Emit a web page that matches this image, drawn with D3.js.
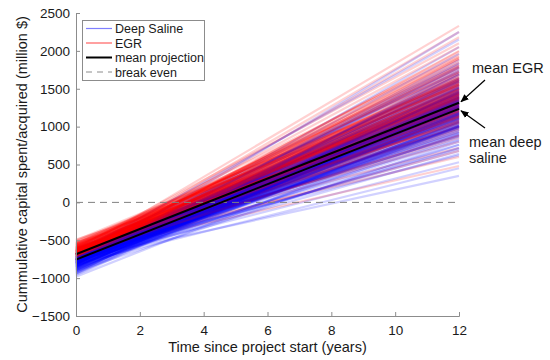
<!DOCTYPE html>
<html>
<head>
<meta charset="utf-8">
<script src="https://cdn.jsdelivr.net/npm/d3@7"></script>
<style>
  body { margin: 0; background: #fff; }
  svg { font-family: "Liberation Sans", Arial, sans-serif; }
</style>
</head>
<body>
<svg width="550" height="360"></svg>
<script>
// ---- data ----
var years = [0, 12];
var xTicks = [0, 2, 4, 6, 8, 10, 12];
var yTicks = [-1500, -1000, -500, 0, 500, 1000, 1500, 2000, 2500];

// each simulated line: value at year 0 and at year 12
var dsStart = [-760, -810, -720, -690, -850, -740, -780, -700, -830, -770, -650, -790, -730, -880, -750, -710, -800, -760, -680, -920, -740, -770, -820, -700, -790, -730, -860, -750, -640, -780, -810, -720, -760, -900, -690, -770, -740, -830, -710, -800, -750, -620, -780, -730, -870, -760, -700, -820, -790, -740, -680, -850, -760, -720, -810, -770, -940, -730, -790, -700, -750, -840, -660, -780, -760, -720, -890, -740, -800, -710, -770, -830, -750, -690, -780, -860, -730, -760, -810, -700, -790, -740, -910, -770, -720, -750, -840, -680, -780, -760,
  -800, -870, -760, -930, -820, -780, -960, -840, -740, -890, -810, -770, -850, -720, -900, -790, -830, -760, -880, -810, -750, -950, -800, -860, -780, -820, -730, -910, -840, -790, -870, -770, -820, -980, -800, -850, -760, -890, -810, -830, -740, -920, -780, -860, -800, -840, -770, -900, -820, -790, -850, -760, -880, -810, -830, -790, -940, -800, -860, -780];
var dsEnd = [1230, 980, 1510, 1120, 1390, 760, 1650, 1280, 1050, 1440, 870, 1190, 1760, 1330, 940, 1580, 1210, 1100, 620, 1470, 1300, 1020, 1880, 1250, 1160, 830, 1370, 1540, 1080, 1260, 450, 1420, 1140, 1690, 990, 1310, 1200, 2050, 910, 1350, 1170, 1610, 720, 1240, 1060, 1490, 1290, 1820, 1130, 960, 1400, 1220, 530, 1560, 1270, 1010, 1340, 1180, 2250, 880, 1450, 1150, 1720, 1320, 1090, 680, 1380, 1260, 1960, 1030, 1500, 1190, 350, 1430, 1110, 1620, 1280, 920, 1360, 1240, 1070, 1790, 800, 1520, 1200, 1300, 1140, 2150, 1000, 1410,
  1180, 1460, 890, 1350, 1620, 1040, 1300, 760, 1510, 1170, 1390, 960, 1700, 1110, 1280, 1550, 860, 1380, 1050, 1250, 1640, 1320, 1000, 1460, 1120, 1780, 930, 1360, 1230, 820, 1590, 1160, 1400, 1010, 1480, 1340, 710, 1260, 1680, 1100, 1310, 1520, 1010, 1370, 1840, 1150, 1280, 1070, 1430, 640, 1330, 1600, 1250, 990, 1450, 1170, 1740, 1230, 900, 1270];
var egrStart = [-680, -720, -640, -700, -590, -740, -660, -690, -760, -620, -710, -650, -800, -680, -560, -730, -670, -700, -610, -750, -690, -640, -720, -580, -770, -660, -700, -630, -740, -680, -520, -710, -650, -690, -790, -670, -620, -730, -700, -600, -760, -680, -650, -710, -540, -690, -740, -660, -700, -630, -780, -670, -720, -610, -690, -650, -750, -680, -570, -710, -660, -730, -690, -640, -810, -700, -620, -680, -740, -590, -670, -710, -650, -760, -690, -500, -720, -660, -700, -630, -680, -750, -610, -690, -720, -650, -770, -680, -700, -640,
  -620, -580, -660, -540, -640, -600, -700, -560, -630, -680, -590, -650, -530, -610, -670, -570, -690, -620, -550, -640, -600, -710, -580, -660, -510, -630, -690, -570, -650, -610, -540, -680, -600, -640, -560, -720, -620, -590, -660, -530, -650, -610, -700, -570, -630, -680, -550, -640, -600, -670, -580, -620, -490, -660, -610, -690, -560, -640, -600, -650];
var egrEnd = [1320, 1560, 1100, 1420, 1250, 1780, 980, 1380, 1650, 1200, 1480, 850, 1900, 1300, 1150, 1590, 1350, 1050, 2100, 1270, 1450, 1180, 1700, 720, 1400, 1330, 1520, 1080, 2000, 1290, 1620, 1220, 930, 1470, 1360, 1840, 1130, 1260, 1550, 600, 1390, 1310, 1730, 1010, 1440, 2250, 1240, 1500, 1170, 1340, 1680, 890, 1410, 1280, 1960, 1120, 1370, 1580, 1210, 1460, 480, 1300, 1640, 1060, 1430, 2180, 1190, 1350, 1530, 800, 1270, 1490, 1810, 1140, 1320, 1600, 1230, 2330, 1000, 1380, 1700, 1160, 1420, 680, 1250, 1560, 1090, 1340, 1920, 1260,
  1380, 1720, 1060, 1640, 1450, 1930, 1250, 1570, 1000, 1490, 1810, 1300, 1540, 1160, 1880, 1600, 1440, 960, 1750, 1390, 1500, 1130, 1620, 2050, 1470, 1210, 1680, 1420, 1070, 1660, 1400, 1850, 1250, 1560, 1370, 1990, 1190, 1720, 1430, 1040, 1590, 1210, 1780, 1380, 1630, 1120, 1550, 1270, 1440, 1900, 1360, 1500, 1140, 1610, 1410, 880, 1530, 1790, 1460, 1290];

var meanEGR = [-685, 1315];
var meanDS = [-755, 1235];

var legendLabels = ["Deep Saline", "EGR", "mean projection", "break even"];
var seriesColor = {ds: "#0000ff", egr: "#ff0000"};

// ---- layout ----
var svg = d3.select("svg");
var x = d3.scaleLinear().domain([0, 12]).range([76, 459]);
var y = d3.scaleLinear().domain([-1500, 2500]).range([316, 13]);

var line = d3.line()
    .x(function(d, i) { return x(years[i]); })
    .y(function(d) { return y(d); });

// simulated runs, plotted alternately so the two colours blend
var dsRuns = d3.zip(dsStart, dsEnd);
var egrRuns = d3.zip(egrStart, egrEnd);
var allRuns = [];
for (var i = 0; i < Math.max(dsRuns.length, egrRuns.length); i++) {
  if (dsRuns[i]) allRuns.push({v: dsRuns[i], s: "ds"});
  if (egrRuns[i]) allRuns.push({v: egrRuns[i], s: "egr"});
}

svg.append("g").selectAll("path")
    .data(allRuns)
  .enter().append("path")
    .attr("d", function(d) { return line(d.v); })
    .attr("fill", "none")
    .attr("stroke", function(d) { return seriesColor[d.s]; })
    .attr("stroke-opacity", 0.18)
    .attr("stroke-width", 2.2);

// break even
svg.append("line")
    .attr("x1", x(0)).attr("x2", x(12))
    .attr("y1", y(0)).attr("y2", y(0))
    .attr("stroke", "#808080")
    .attr("stroke-width", 1)
    .attr("stroke-dasharray", "7,5");

// means
[meanEGR, meanDS].forEach(function(m) {
  svg.append("path")
      .attr("d", line(m))
      .attr("fill", "none")
      .attr("stroke", "#000")
      .attr("stroke-width", 2);
});

// axes (MATLAB style: ticks inside, no box)
var xAxis = svg.append("g")
    .attr("transform", "translate(0," + y(-1500) + ")")
    .call(d3.axisBottom(x).tickValues(xTicks).tickSize(-4).tickPadding(9));
var yAxis = svg.append("g")
    .attr("transform", "translate(" + x(0) + ",0)")
    .call(d3.axisLeft(y).tickValues(yTicks).tickSize(-4).tickPadding(6)
      .tickFormat(function(d) { return d < 0 ? "\u2212" + Math.abs(d) : d; }));

[xAxis, yAxis].forEach(function(a) {
  a.select(".domain").attr("stroke", "#8c8c8c");
  a.selectAll(".tick line").attr("stroke", "#8c8c8c");
  a.selectAll(".tick text")
      .attr("fill", "#1a1a1a")
      .style("font-size", "13.5px")
      .style("font-family", "'Liberation Sans', Arial, sans-serif");
});

// axis titles
svg.append("text")
    .attr("x", (x(0) + x(12)) / 2)
    .attr("y", 352)
    .attr("text-anchor", "middle")
    .attr("fill", "#1a1a1a")
    .style("font-size", "14.5px")
    .text("Time since project start (years)");

svg.append("text")
    .attr("transform", "translate(27," + (y(500)) + ") rotate(-90)")
    .attr("text-anchor", "middle")
    .attr("fill", "#1a1a1a")
    .style("font-size", "14.5px")
    .text("Cummulative capital spent/acquired (million $)");

// legend
var lg = svg.append("g");
lg.append("rect")
    .attr("x", 82.5).attr("y", 20.5)
    .attr("width", 122).attr("height", 60)
    .attr("fill", "#fff")
    .attr("stroke", "#8c8c8c");

var legendStyle = [
  {stroke: "#7f7fff", width: 1.2, dash: null},
  {stroke: "#ff8080", width: 1.5, dash: null},
  {stroke: "#000", width: 2, dash: null},
  {stroke: "#8c8c8c", width: 1, dash: "6,5"}
];

legendLabels.forEach(function(t, i) {
  var yy = 28.5 + i * 14.5;
  lg.append("line")
      .attr("x1", 86).attr("x2", 112)
      .attr("y1", yy).attr("y2", yy)
      .attr("stroke", legendStyle[i].stroke)
      .attr("stroke-width", legendStyle[i].width)
      .attr("stroke-dasharray", legendStyle[i].dash);
  lg.append("text")
      .attr("x", 115)
      .attr("y", yy + 4.5)
      .attr("fill", "#1a1a1a")
      .style("font-size", "12.5px")
      .text(t);
});

// annotations
var defs = svg.append("defs");
defs.append("marker")
    .attr("id", "arrow")
    .attr("viewBox", "0 0 10 10")
    .attr("refX", 9).attr("refY", 5)
    .attr("markerWidth", 7).attr("markerHeight", 7)
    .attr("orient", "auto")
  .append("path")
    .attr("d", "M0,1 L10,5 L0,9 Z")
    .attr("fill", "#000");

svg.append("line")
    .attr("x1", 485).attr("y1", 80)
    .attr("x2", x(12) + 2).attr("y2", y(meanEGR[1]) - 1)
    .attr("stroke", "#000").attr("stroke-width", 1.2)
    .attr("marker-end", "url(#arrow)");

svg.append("line")
    .attr("x1", 485).attr("y1", 128)
    .attr("x2", x(12) + 2).attr("y2", y(meanDS[1]) + 2)
    .attr("stroke", "#000").attr("stroke-width", 1.2)
    .attr("marker-end", "url(#arrow)");

svg.append("text")
    .attr("x", 472).attr("y", 73)
    .attr("fill", "#1a1a1a")
    .style("font-size", "14.5px")
    .text("mean EGR");

var ds = svg.append("text")
    .attr("fill", "#1a1a1a")
    .style("font-size", "14.5px");
ds.append("tspan").attr("x", 469).attr("y", 147).text("mean deep");
ds.append("tspan").attr("x", 469).attr("y", 163).text("saline");
</script>
</body>
</html>
